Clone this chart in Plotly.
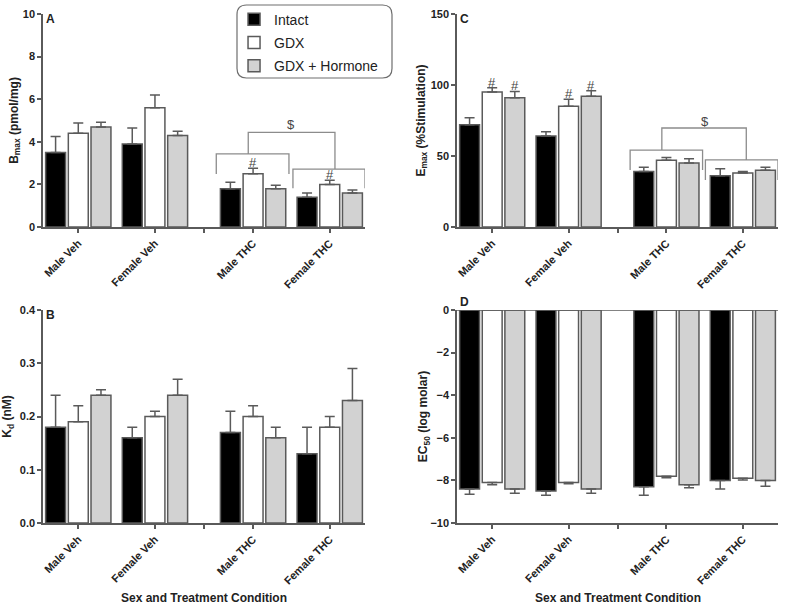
import plotly.graph_objects as go

# ---------------- data ----------------
categories = ["Male Veh", "Female Veh", "Male THC", "Female THC"]
group_pos = [0, 1, 2.28, 3.28]
series_names = ["Intact", "GDX", "GDX + Hormone"]

# Panel A: Bmax (pmol/mg)
bmax_intact = [3.5, 3.9, 1.8, 1.4]
bmax_intact_err = [0.75, 0.75, 0.3, 0.2]
bmax_gdx = [4.4, 5.6, 2.5, 2.0]
bmax_gdx_err = [0.48, 0.6, 0.26, 0.2]
bmax_horm = [4.7, 4.3, 1.8, 1.6]
bmax_horm_err = [0.22, 0.2, 0.16, 0.14]

# Panel B: Kd (nM)
kd_intact = [0.18, 0.16, 0.17, 0.13]
kd_intact_err = [0.06, 0.02, 0.04, 0.05]
kd_gdx = [0.19, 0.20, 0.20, 0.18]
kd_gdx_err = [0.03, 0.01, 0.02, 0.02]
kd_horm = [0.24, 0.24, 0.16, 0.23]
kd_horm_err = [0.01, 0.03, 0.02, 0.06]

# Panel C: Emax (% stimulation)
emax_intact = [72, 64, 39, 36]
emax_intact_err = [5, 3, 3, 5]
emax_gdx = [95, 85, 47, 38]
emax_gdx_err = [3, 5, 2, 1]
emax_horm = [91, 92, 45, 40]
emax_horm_err = [4.5, 4, 3, 2]

# Panel D: EC50 (log molar)
ec50_intact = [-8.4, -8.5, -8.3, -8.0]
ec50_intact_err = [0.25, 0.2, 0.4, 0.4]
ec50_gdx = [-8.1, -8.1, -7.8, -7.9]
ec50_gdx_err = [0.1, 0.06, 0.08, 0.08]
ec50_horm = [-8.4, -8.4, -8.2, -8.0]
ec50_horm_err = [0.2, 0.2, 0.15, 0.28]

# ---------------- style ----------------
FILLS = ["#000000", "#ffffff", "#d2d2d2"]
EDGE = "#5a5a5a"
AX = "#5a5a5a"
BR = "#8c8c8c"
FONT = "Liberation Sans"
BAR_W = 0.26
OFFSETS = [-0.426, -0.13, 0.166]
XR = [-0.46, 3.74]

fig = go.Figure()

panels = [
    ("x", "y", [(bmax_intact, bmax_intact_err), (bmax_gdx, bmax_gdx_err), (bmax_horm, bmax_horm_err)], False),
    ("x2", "y2", [(emax_intact, emax_intact_err), (emax_gdx, emax_gdx_err), (emax_horm, emax_horm_err)], False),
    ("x3", "y3", [(kd_intact, kd_intact_err), (kd_gdx, kd_gdx_err), (kd_horm, kd_horm_err)], False),
    ("x4", "y4", [(ec50_intact, ec50_intact_err), (ec50_gdx, ec50_gdx_err), (ec50_horm, ec50_horm_err)], True),
]

for pi, (xa, ya, series, neg) in enumerate(panels):
    for si, (vals, errs) in enumerate(series):
        if neg:
            ey = dict(type="data", symmetric=False, array=[0] * len(errs), arrayminus=errs,
                      color=AX, thickness=1.5, width=5)
        else:
            ey = dict(type="data", symmetric=False, array=errs, arrayminus=[0] * len(errs),
                      color=AX, thickness=1.5, width=5)
        fig.add_trace(go.Bar(
            x=group_pos, y=vals, width=BAR_W, offset=OFFSETS[si],
            marker=dict(color=FILLS[si], line=dict(color=EDGE, width=1.5)),
            error_y=ey, name=series_names[si], legendgroup=series_names[si],
            showlegend=(pi == 0), xaxis=xa, yaxis=ya,
        ))

mid_tick = (group_pos[1] + group_pos[2]) / 2

xcommon = dict(range=XR, showline=True, linecolor=AX, linewidth=1.5, ticks="outside",
               ticklen=4, tickcolor=AX, tickwidth=1.5, tickangle=-45, tickmode="array",
               tickvals=group_pos, ticktext=categories, showgrid=False, zeroline=False,
               automargin=False,
               minor=dict(tickmode="array", tickvals=[mid_tick], ticks="outside", ticklen=4,
                          tickcolor=AX, tickwidth=1.5, showgrid=False),
               tickfont=dict(family=FONT, size=11, color="#222", weight="bold"))
ycommon = dict(showline=True, linecolor=AX, linewidth=1.5, ticks="outside", ticklen=4,
               tickcolor=AX, tickwidth=1.5, showgrid=False, zeroline=False, automargin=False,
               tickfont=dict(family=FONT, size=11, color="#222", weight="bold"))
tfont = dict(family=FONT, size=12, color="#222", weight="bold")

LX = [0.0546, 0.4632]
RX = [0.58, 0.9873]
TY = [0.6297, 0.9772]
BY = [0.1468, 0.4943]

fig.update_layout(
    template="none",
    width=788, height=613, margin=dict(l=0, r=0, t=0, b=0, autoexpand=False),
    paper_bgcolor="white", plot_bgcolor="white", barmode="overlay",
    xaxis=dict(xcommon, domain=LX, anchor="y"),
    yaxis=dict(ycommon, domain=TY, anchor="x", range=[0, 10], dtick=2,
               title=dict(text="B<sub>max</sub> (pmol/mg)", font=tfont, standoff=2)),
    xaxis2=dict(xcommon, domain=RX, anchor="y2"),
    yaxis2=dict(ycommon, domain=TY, anchor="x2", range=[0, 150], dtick=50,
                title=dict(text="E<sub>max</sub> (%Stimulation)", font=tfont, standoff=3)),
    xaxis3=dict(xcommon, domain=LX, anchor="y3"),
    yaxis3=dict(ycommon, domain=BY, anchor="x3", range=[0, 0.4], dtick=0.1, tickformat=".1f",
                title=dict(text="K<sub>d</sub> (nM)", font=tfont, standoff=7)),
    xaxis4=dict(xcommon, domain=RX, anchor="y4"),
    yaxis4=dict(ycommon, domain=BY, anchor="x4", range=[-10, 0], dtick=2,
                title=dict(text="EC<sub>50</sub> (log molar)", font=tfont, standoff=0)),
    legend=dict(x=0.297, y=0.994, xanchor="left", yanchor="top", bgcolor="rgba(0,0,0,0)",
                borderwidth=0, font=dict(family=FONT, size=14, color="#222"),
                tracegroupgap=2, itemwidth=30),
    showlegend=True,
)

# x-axis titles under the bottom panels
for xc in [(LX[0] + LX[1]) / 2, (RX[0] + RX[1]) / 2]:
    fig.add_annotation(x=xc, y=1 - 598 / 613, xref="paper", yref="paper",
                       text="Sex and Treatment Condition", showarrow=False,
                       xanchor="center", yanchor="middle", font=tfont)

# rounded legend box
x0, x1 = 237 / 788, 392 / 788
y1, y0 = 1 - 5 / 613, 1 - 78 / 613
r = 0.012
ry = r * 788 / 613
fig.add_shape(type="path", xref="paper", yref="paper",
              path=(f"M {x0 + r},{y1} L {x1 - r},{y1} Q {x1},{y1} {x1},{y1 - ry} "
                    f"L {x1},{y0 + ry} Q {x1},{y0} {x1 - r},{y0} L {x0 + r},{y0} "
                    f"Q {x0},{y0} {x0},{y0 + ry} L {x0},{y1 - ry} Q {x0},{y1} {x0 + r},{y1} Z"),
              line=dict(color="#6e6e6e", width=1.2), fillcolor="rgba(0,0,0,0)")

# zero line at top of panel D
fig.add_shape(type="line", xref="x4", yref="y4", x0=XR[0], x1=XR[1], y0=0, y1=0,
              line=dict(color=AX, width=1.5))

# significance brackets
def bracket(xa, ya, xl, xr, ytop, yl, yr):
    fig.add_shape(type="path", xref=xa, yref=ya,
                  path=f"M {xl},{yl} L {xl},{ytop} L {xr},{ytop} L {xr},{yr}",
                  line=dict(color=BR, width=1.3))

# Panel A
bracket("x", "y", 1.80, 2.748, 3.43, 2.49, 2.49)
bracket("x", "y", 2.80, 3.74, 2.72, 1.82, 1.82)
bracket("x", "y", 2.217, 3.348, 4.44, 3.43, 2.72)
# Panel C
bracket("x2", "y2", 1.805, 2.753, 54.2, 40.1, 40.1)
bracket("x2", "y2", 2.79, 3.74, 47.2, 33.1, 33.1)
bracket("x2", "y2", 2.22, 3.325, 69.7, 54.2, 47.2)

sym_font = dict(family=FONT, size=13, color="#444")
fig.add_annotation(x=2.78, y=4.79, xref="x", yref="y", text="$", showarrow=False, font=sym_font)
fig.add_annotation(x=2.79, y=74.6, xref="x2", yref="y2", text="$", showarrow=False, font=sym_font)

# '#' markers above the error caps
hash_marks = [
    ("x", "y", 2, 1, bmax_gdx, bmax_gdx_err),
    ("x", "y", 3, 1, bmax_gdx, bmax_gdx_err),
    ("x2", "y2", 0, 1, emax_gdx, emax_gdx_err),
    ("x2", "y2", 0, 2, emax_horm, emax_horm_err),
    ("x2", "y2", 1, 1, emax_gdx, emax_gdx_err),
    ("x2", "y2", 1, 2, emax_horm, emax_horm_err),
]
for xa, ya, gi, si, vals, errs in hash_marks:
    fig.add_annotation(x=group_pos[gi] + OFFSETS[si] + BAR_W / 2, y=vals[gi] + errs[gi],
                       xref=xa, yref=ya, text="#", showarrow=False, yanchor="bottom",
                       yshift=-4, font=dict(family=FONT, size=13, color="#444"))

# panel letters
for xa, ya, letter, anchor, ys in [("x", "y", "A", "top", 4), ("x2", "y2", "C", "top", 4),
                                   ("x3", "y3", "B", "top", 4), ("x4", "y4", "D", "bottom", -1)]:
    fig.add_annotation(x=0.004, y=1.0, xref=f"{xa} domain", yref=f"{ya} domain", text=letter,
                       showarrow=False, xanchor="left", yanchor=anchor, yshift=ys,
                       font=dict(family=FONT, size=12, color="#222", weight="bold"))

fig.write_html("out.html", config={"displayModeBar": False},
               post_script="document.body.style.margin='0';document.body.style.overflow='hidden';")
